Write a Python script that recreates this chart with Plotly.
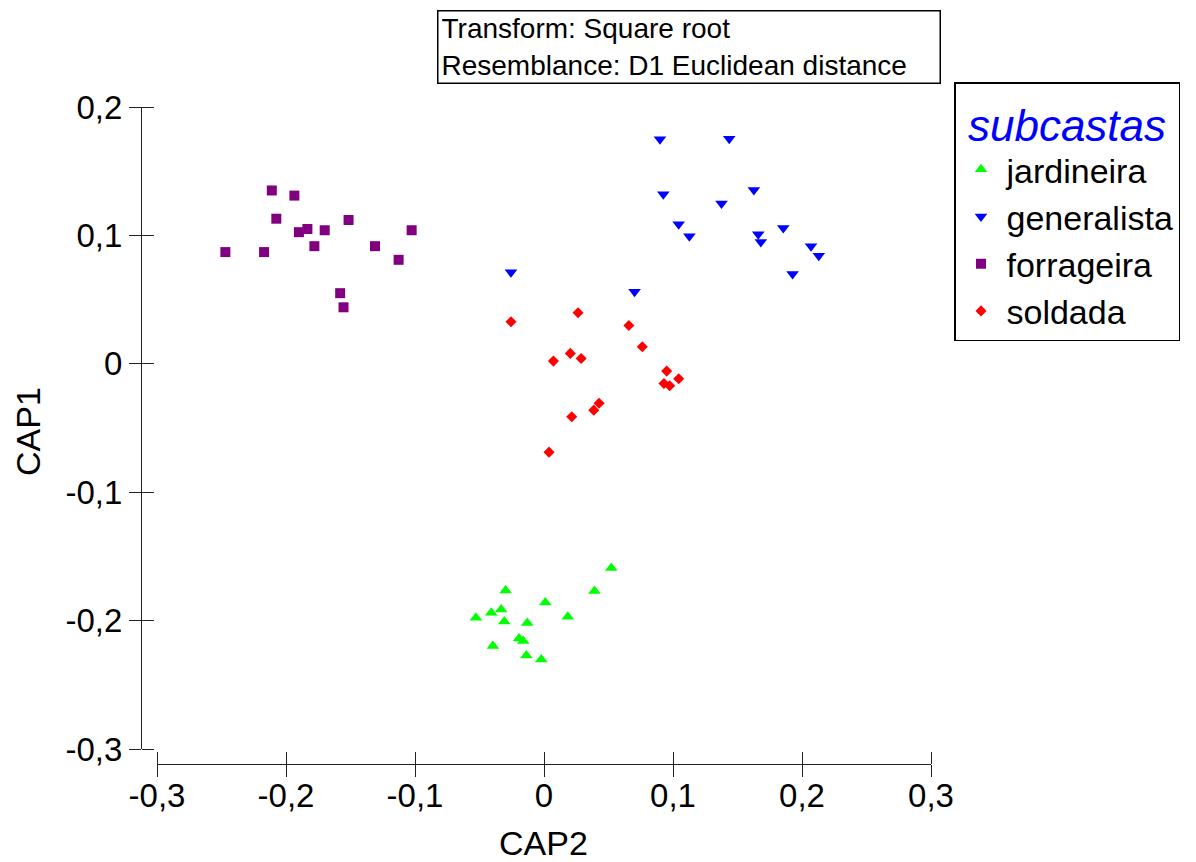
import plotly.graph_objects as go

# ---- data ----
jard_x = [0.0521, 0.0391, -0.0298, 0.0010, -0.0528, -0.0409, -0.0332, -0.0308, -0.0130, 0.0184, -0.0194, -0.0161, -0.0396, -0.0137, -0.0021]
jard_y = [-0.159, -0.1770, -0.1765, -0.1859, -0.1978, -0.1939, -0.1913, -0.2007, -0.2018, -0.1970, -0.2140, -0.2158, -0.2197, -0.2272, -0.2303]

gen_x = [0.0899, 0.1436, 0.0925, 0.1627, 0.1376, 0.1044, 0.1127, 0.1661, 0.1681, 0.1855, 0.2070, 0.2130, 0.1927, 0.0702, -0.0256]
gen_y = [0.1748, 0.1753, 0.1321, 0.1353, 0.1249, 0.1087, 0.0994, 0.1009, 0.0949, 0.1058, 0.0915, 0.0842, 0.0699, 0.0562, 0.0713]

forr_x = [-0.247, -0.217, -0.211, -0.2075, -0.1935, -0.190, -0.1834, -0.178, -0.170, -0.158, -0.1554, -0.1515, -0.131, -0.1127, -0.1026]
forr_y = [0.087, 0.087, 0.135, 0.113, 0.131, 0.1025, 0.105, 0.0916, 0.104, 0.055, 0.044, 0.112, 0.0916, 0.081, 0.104]

sold_x = [-0.0256, 0.0264, 0.0658, 0.0762, 0.0204, 0.0288, 0.0073, 0.0951, 0.1044, 0.0930, 0.0974, 0.0427, 0.0386, 0.0215, 0.0039]
sold_y = [0.0328, 0.0398, 0.0299, 0.0133, 0.0081, 0.0042, 0.0021, -0.0057, -0.0117, -0.0153, -0.0171, -0.0307, -0.0361, -0.0413, -0.0688]

x_ticks = [-0.3, -0.2, -0.1, 0, 0.1, 0.2, 0.3]
x_tick_text = ["-0,3", "-0,2", "-0,1", "0", "0,1", "0,2", "0,3"]
y_ticks = [-0.3, -0.2, -0.1, 0, 0.1, 0.2]
y_tick_text = ["-0,3", "-0,2", "-0,1", "0", "0,1", "0,2"]

FONT = "Liberation Sans, Arial, Helvetica, sans-serif"
W, H = 1196, 862

fig = go.Figure()
series = [
    ("jardineira", jard_x, jard_y, "triangle-up", "#00FF00", 11, "x", "y"),
    ("generalista", gen_x, gen_y, "triangle-down", "#0000FF", 11, "x", "y"),
    ("forrageira", forr_x, forr_y, "square", "#800080", 10, "x", "y"),
    # drawn on the identical overlay axes so the inner tick halves get rendered
    ("soldada", sold_x, sold_y, "diamond", "#FF0000", 8.5, "x2", "y2"),
]
for name, xs, ys, sym, col, sz, xa, ya in series:
    fig.add_trace(go.Scatter(
        x=xs, y=ys, mode="markers", name=name, legendgroup=name,
        xaxis=xa, yaxis=ya,
        marker=dict(symbol=sym, color=col, size=sz, line=dict(width=0)),
    ))

x_dom = [157 / W, 931 / W]
y_dom = [(H - 749) / H, (H - 107) / H]
yaxis_pos = 141 / W
xaxis_pos = (H - 764) / H

common_tick = dict(ticklen=12, tickwidth=1, tickcolor="#222222")
fig.update_layout(
    width=W, height=H,
    margin=dict(l=0, r=0, t=0, b=0, autoexpand=False),
    paper_bgcolor="white", plot_bgcolor="white",
    font=dict(family=FONT, size=33, color="black"),
    xaxis=dict(domain=x_dom, range=[-0.3, 0.3], anchor="free", position=xaxis_pos,
               showline=True, linecolor="#222222", linewidth=1, ticks="outside",
               tickvals=x_ticks, ticktext=x_tick_text, showgrid=False, zeroline=False,
               tickfont=dict(size=33), automargin=False, ticklabelstandoff=-10, **common_tick),
    yaxis=dict(domain=y_dom, range=[-0.3, 0.2], anchor="free", position=yaxis_pos,
               showline=True, linecolor="#222222", linewidth=1, ticks="outside",
               tickvals=y_ticks, ticktext=y_tick_text, showgrid=False, zeroline=False,
               tickfont=dict(size=33), automargin=False, **common_tick),
    xaxis2=dict(overlaying="x", side="top", range=[-0.3, 0.3], anchor="free", position=xaxis_pos,
                showline=False, ticks="outside", tickvals=x_ticks, showticklabels=False,
                showgrid=False, zeroline=False, automargin=False, **common_tick),
    yaxis2=dict(overlaying="y", side="right", range=[-0.3, 0.2], anchor="free", position=yaxis_pos,
                showline=False, ticks="outside", tickvals=y_ticks, showticklabels=False,
                showgrid=False, zeroline=False, automargin=False, **common_tick),
    legend=dict(
        x=954 / W, y=(H - 82) / H, xanchor="left", yanchor="top",
        bordercolor="black", borderwidth=1.5, bgcolor="white",
        font=dict(family=FONT, size=34, color="black"),
        title=dict(text="subcastas", side="top center",
                   font=dict(family=FONT, size=44, color="#0000FF", style="italic")),
        tracegroupgap=0, itemsizing="trace", itemwidth=41,
    ),
    showlegend=True,
)

fig.add_annotation(
    xref="paper", yref="paper", x=437 / W, y=(H - 10) / H, xanchor="left", yanchor="top",
    text="Transform: Square root<br>Resemblance: D1 Euclidean distance",
    align="left", valign="middle", width=495, height=65,
    showarrow=False, font=dict(family=FONT, size=28, color="black"),
    bordercolor="black", borderwidth=1.5, borderpad=3, bgcolor="white",
)
fig.add_annotation(xref="paper", yref="paper", x=543 / W, y=(H - 843) / H,
                   xanchor="center", yanchor="middle",
                   text="CAP2", showarrow=False, font=dict(family=FONT, size=34))
fig.add_annotation(xref="paper", yref="paper", x=28 / W, y=(H - 431) / H,
                   xanchor="center", yanchor="middle",
                   text="CAP1", textangle=-90, showarrow=False, font=dict(family=FONT, size=34))

fig.write_html("out.html")
